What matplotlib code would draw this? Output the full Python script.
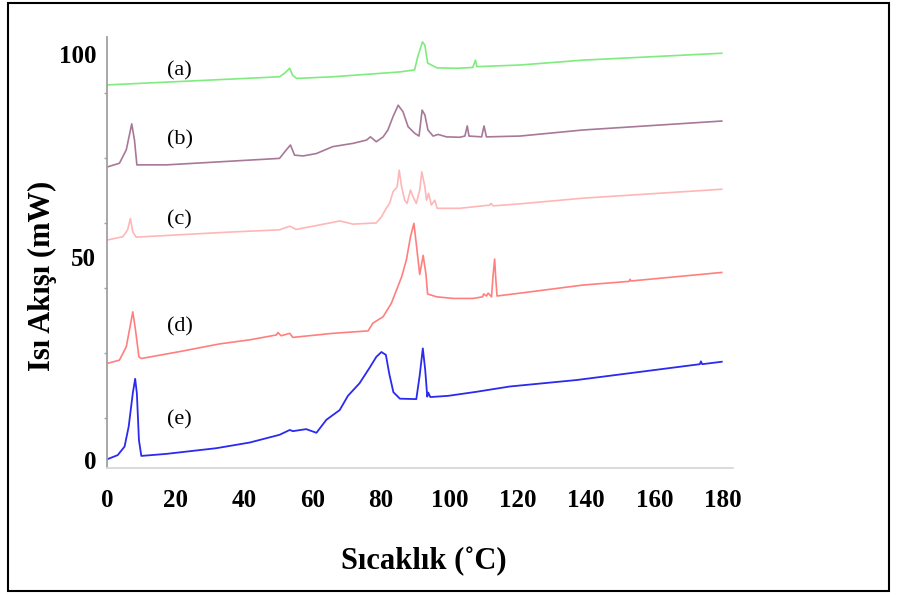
import matplotlib
matplotlib.use("Agg")
import matplotlib.pyplot as plt
from matplotlib.patches import Rectangle

# ---------------- data (temperature °C, heat flow mW, curves offset) ----------------
a_T = [0.0, 50.3, 51.8, 53.3, 54.1, 55.3, 65.9, 85.5, 89.8, 90.7, 92.1, 92.8, 93.6, 96.3,
       102.1, 106.8, 107.6, 108.0, 120.6, 139.0, 179.6]
a_H = [92.4, 94.4, 95.3, 96.5, 94.8, 94.0, 94.4, 95.6, 96.1, 99.3, 103.0, 102.2, 97.8, 96.6,
       96.5, 96.7, 98.5, 96.9, 97.3, 98.5, 100.2]

b_T = [0.0, 3.5, 5.5, 7.1, 7.9, 8.6, 17.2, 50.3, 52.3, 53.5, 54.7, 57.2, 61.1, 65.9, 71.8,
       75.7, 76.9, 78.6, 80.6, 82.0, 83.5, 85.0, 86.4, 87.9, 89.8, 91.1, 92.0, 92.8, 93.7,
       95.2, 96.7, 99.1, 103.0, 104.5, 105.2, 105.7, 109.4, 110.1, 110.8, 120.6, 139.1, 179.6]
b_H = [72.2, 73.1, 76.4, 82.8, 78.8, 72.7, 72.7, 74.3, 76.4, 77.6, 75.1, 74.9, 75.5, 77.2, 78.0,
       78.8, 79.6, 78.4, 79.6, 81.3, 84.6, 87.4, 85.8, 82.1, 80.5, 79.8, 86.2, 85.0, 81.3,
       79.8, 80.2, 79.6, 79.5, 79.8, 82.3, 79.8, 79.6, 82.3, 79.6, 79.8, 81.3, 83.5]

c_T = [0.0, 4.5, 5.9, 6.7, 7.4, 8.4, 34.7, 50.3, 53.3, 55.2, 66.9, 67.9, 71.8, 78.6, 80.1,
       81.5, 82.5, 83.5, 84.7, 85.3, 86.0, 86.9, 87.6, 88.6, 89.3, 90.3, 91.3, 91.9, 92.8,
       93.3, 93.9, 94.7, 95.7, 96.4, 103.0, 111.8, 112.1, 112.8, 120.6, 139.1, 179.6]
c_H = [54.2, 55.0, 56.7, 59.5, 56.2, 54.9, 56.1, 56.7, 57.6, 56.8, 58.7, 58.9, 58.1, 58.4, 59.9,
       62.0, 63.2, 66.1, 67.3, 71.4, 67.3, 64.0, 63.2, 66.5, 64.9, 63.2, 66.5, 71.0, 67.3,
       64.0, 65.7, 62.8, 64.0, 62.0, 62.0, 62.8, 63.2, 62.6, 63.1, 64.5, 66.7]

d_T = [0.0, 3.5, 5.5, 6.6, 7.4, 8.2, 9.2, 9.9, 21.1, 32.8, 41.6, 49.4, 49.8, 50.8, 53.3, 54.2,
       65.9, 76.2, 77.6, 80.6, 83.0, 86.0, 87.4, 88.6, 89.6, 90.5, 91.3, 92.3, 93.1, 93.6,
       96.2, 101.1, 106.9, 109.7, 110.0, 110.8, 111.3, 112.3, 112.7, 113.2, 113.5, 113.9,
       120.6, 139.1, 152.5, 152.8, 153.1, 179.6]
d_H = [23.8, 24.6, 27.9, 32.8, 36.5, 32.0, 25.4, 25.0, 26.7, 28.6, 29.6, 30.8, 31.4, 30.6, 31.2, 30.2,
       31.2, 31.8, 33.7, 35.3, 38.6, 45.1, 49.3, 55.0, 58.3, 51.7, 45.7, 50.4, 45.9, 40.9,
       40.2, 39.8, 39.8, 40.2, 40.9, 40.4, 41.1, 40.2, 45.1, 49.5, 45.1, 40.4,
       41.1, 43.1, 44.0, 44.5, 44.1, 46.2]

e_T = [0.0, 3.0, 5.0, 6.2, 7.4, 8.1, 8.6, 9.2, 9.9, 17.2, 31.8, 41.6, 50.3, 53.3, 54.2, 58.1,
       61.1, 64.0, 67.9, 70.3, 73.7, 76.7, 78.6, 80.1, 81.4, 82.4, 83.6, 85.5, 90.3, 91.3,
       92.2, 92.9, 93.5, 93.8, 94.4, 99.6, 107.9, 117.6, 137.2, 173.2, 173.5, 173.9, 179.6]
e_H = [0.2, 1.2, 3.3, 8.2, 16.4, 20.0, 16.4, 4.9, 1.0, 1.5, 2.9, 4.3, 6.2, 7.4, 7.1, 7.6,
       6.7, 9.9, 12.3, 15.8, 18.9, 22.8, 25.4, 26.6, 25.9, 21.2, 16.7, 15.1, 15.0, 20.9,
       27.5, 22.2, 15.6, 16.6, 15.5, 15.8, 16.8, 18.1, 19.7, 23.6, 24.3, 23.6, 24.2]

curve_labels = ["(a)", "(b)", "(c)", "(d)", "(e)"]
label_T = [21.1, 21.1, 21.1, 21.1, 21.1]
label_H = [95.9, 78.9, 59.2, 32.8, 9.9]

x_ticks = [0, 20, 40, 60, 80, 100, 120, 140, 160, 180]
y_ticks = [0, 50, 100]
y_minor = [10.3, 26.4, 42.4, 58.4, 74.4, 90.4]

# ---------------- figure ----------------
serif = ["Liberation Serif", "DejaVu Serif"]
plt.rcParams["font.family"] = serif

fig = plt.figure(figsize=(8.97, 5.96), dpi=100)
ax = fig.add_axes([0.1198, 0.2148, 0.8172 - 0.1198, 0.9379 - 0.2148])

ax.plot(a_T, a_H, color="#7eec7e", lw=1.2)
ax.plot(b_T, b_H, color="#a87898", lw=1.2)
ax.plot(c_T, c_H, color="#ffb6b6", lw=1.2)
ax.plot(d_T, d_H, color="#ff7f7f", lw=1.2)
ax.plot(e_T, e_H, color="#2a2af0", lw=1.3)

for t, xx, yy in zip(curve_labels, label_T, label_H):
    ax.text(xx, yy, t, ha="center", va="center", fontsize=16, family=serif)

ax.set_xlim(0, 182.9)
ax.set_ylim(-1.97, 104.2)

for s in ("top", "right"):
    ax.spines[s].set_visible(False)
ax.spines["left"].set_color("#a0a0a0")
ax.spines["left"].set_linewidth(1.3)
ax.spines["bottom"].set_color("#d8d8d8")
ax.spines["bottom"].set_linewidth(1.3)

ax.set_xticks(x_ticks)
ax.set_xticklabels([str(v) for v in x_ticks])
ax.set_yticks(y_ticks)
ax.set_yticklabels([str(v) for v in y_ticks])
ax.set_yticks(y_minor, minor=True)
ax.tick_params(axis="x", length=0, pad=15, labelsize=18)
ax.tick_params(axis="y", which="major", length=0, pad=8, labelsize=18)
ax.tick_params(axis="y", which="minor", length=2.5, width=1, color="#a0a0a0")
for lab in ax.get_xticklabels() + ax.get_yticklabels():
    lab.set_fontweight("bold")

ax.set_xlabel("Sıcaklık (˚C)", fontsize=22, fontweight="bold", va="center")
ax.xaxis.set_label_coords(0.506, -0.216)
ax.set_ylabel("Isı Akışı (mW)", fontsize=22, fontweight="bold", va="center")
ax.yaxis.set_label_coords(-0.104, 0.445)

# outer frame
fig.patches.append(Rectangle((8 / 897, 1 - 591 / 596), (889 - 8) / 897, (591 - 3) / 596,
                             transform=fig.transFigure, fill=False, edgecolor="black",
                             linewidth=1.5))

fig.savefig("out.png", dpi=100)
